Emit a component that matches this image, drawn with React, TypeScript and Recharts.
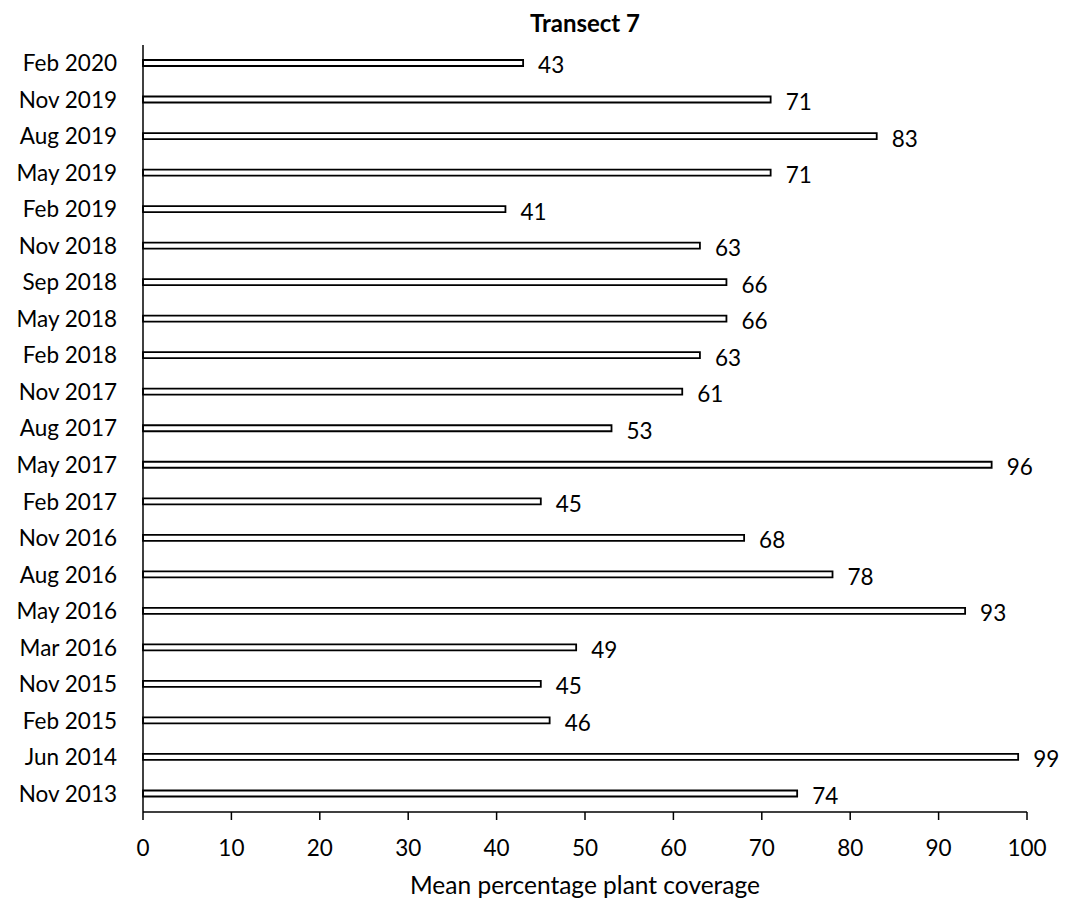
import React from "react";
import { BarChart, Bar, XAxis, YAxis, LabelList } from "recharts";

// Survey dates, top to bottom
const surveyDates = [
  "Feb 2020", "Nov 2019", "Aug 2019", "May 2019", "Feb 2019", "Nov 2018",
  "Sep 2018", "May 2018", "Feb 2018", "Nov 2017", "Aug 2017", "May 2017",
  "Feb 2017", "Nov 2016", "Aug 2016", "May 2016", "Mar 2016", "Nov 2015",
  "Feb 2015", "Jun 2014", "Nov 2013",
];

// Mean percentage plant coverage for each survey
const coverage = [
  43, 71, 83, 71, 41, 63, 66, 66, 63, 61, 53, 96, 45, 68, 78, 93, 49, 45, 46, 99, 74,
];

const xTicks = [0, 10, 20, 30, 40, 50, 60, 70, 80, 90, 100];

const data = surveyDates.map((date, i) => ({ date, value: coverage[i] }));

const FONT = "Lato, 'Open Sans', sans-serif";
const FS = 22.5;

export default function App() {
  return (
    <div style={{ position: "absolute", left: 0, top: 0, width: 1067, height: 904, background: "#fff", fontFamily: FONT }}>
      <div
        style={{
          position: "absolute",
          left: 143,
          width: 884,
          top: 8,
          lineHeight: "30px",
          textAlign: "center",
          fontWeight: 700,
          fontSize: 24,
          color: "#000",
        }}
      >
        Transect 7
      </div>
      <BarChart
        width={1067}
        height={904}
        data={data}
        layout="vertical"
        margin={{ top: 45, right: 40, bottom: 10, left: 0 }}
        barCategoryGap={0}
      >
        <XAxis
          type="number"
          domain={[0, 100]}
          ticks={xTicks}
          interval={0}
          axisLine={{ stroke: "#000", strokeWidth: 1.5 }}
          tickLine={{ stroke: "#000", strokeWidth: 1.5 }}
          tickSize={8}
          tickMargin={20}
          tick={{ fill: "#000", fontSize: FS, fontFamily: FONT }}
          height={82}
          label={{
            value: "Mean percentage plant coverage",
            position: "insideBottom",
            offset: 0,
            fill: "#000",
            fontSize: 24.5,
            fontFamily: FONT,
          }}
        />
        <YAxis
          type="category"
          dataKey="date"
          width={143}
          interval={0}
          axisLine={{ stroke: "#000", strokeWidth: 1.5 }}
          tickLine={false}
          tickSize={0}
          tickMargin={26}
          tick={{ fill: "#000", fontSize: FS, fontFamily: FONT }}
        />
        <Bar
          dataKey="value"
          fill="#fff"
          stroke="#000"
          strokeWidth={1.8}
          barSize={6}
          isAnimationActive={false}
        >
          <LabelList
            dataKey="value"
            position="right"
            offset={15}
            fill="#000"
            fontSize={FS}
            fontFamily={FONT}
            dy={2.5}
          />
        </Bar>
      </BarChart>
    </div>
  );
}
